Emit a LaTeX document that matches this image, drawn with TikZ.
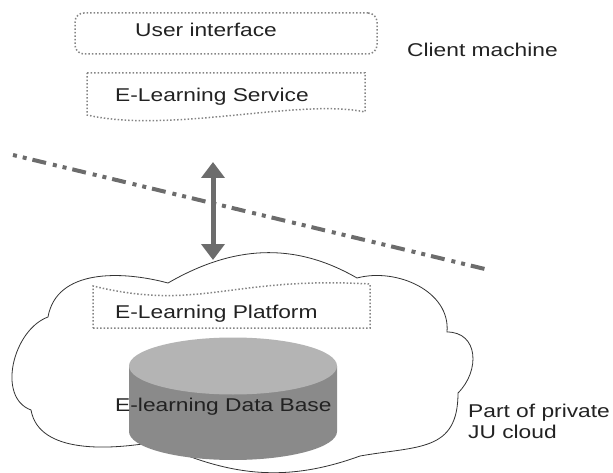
\documentclass[tikz,border=0pt]{standalone}
\usepackage{fontspec}
\newfontfamily\labelfont[FakeStretch=1.23]{Liberation Sans}
\usetikzlibrary{arrows.meta}

\definecolor{linegray}{HTML}{6C6C6C}
\definecolor{dotgray}{HTML}{858585}
\definecolor{dbtopgray}{HTML}{B4B4B4}
\definecolor{dbsidegray}{HTML}{8A8A8A}
\definecolor{inkgray}{HTML}{222222}

\begin{document}
\begin{tikzpicture}[x=1pt,y=1pt,
  lbl/.style={font=\labelfont\fontsize{18.5}{21}\selectfont, text=inkgray,
              inner sep=0pt, anchor=base west},
  dotbox/.style={draw=dotgray, line width=1.5pt, dash pattern=on 1.5pt off 2pt},
  sepline/.style={draw=linegray, line width=4pt,
                  dash pattern=on 4pt off 6pt on 4pt off 6pt on 14pt off 7pt},
  cloudline/.style={draw=black!80, line width=0.8pt, fill=white},
  biarrow/.style={draw=linegray, line width=5pt,
                  {Triangle[width=23pt,length=16pt]}-{Triangle[width=23pt,length=16pt]}}
]
\useasboundingbox (0,0) rectangle (613,472);

% client / cloud boundary
\coordinate (sepL) at (13,317);
\coordinate (sepR) at (489,202);
\draw[sepline] (sepL) -- (sepR);

% private cloud outline
\coordinate (c1) at (168,189);
\coordinate (c2) at (357,194);
\coordinate (c3) at (447,140);
\coordinate (c4) at (458,79);
\coordinate (c5) at (360,16);
\coordinate (c6) at (155,30);
\coordinate (c7) at (31,62);
\coordinate (c8) at (48,155);
\path[cloudline] (c1) to[out=30,in=150] (c2)
  to[out=15,in=85] (c3)
  to[out=0,in=45,looseness=1.3] (c4)
  to[out=-90,in=10,looseness=1.3] (c5)
  to[out=-160,in=-25] (c6)
  to[out=-170,in=-80,looseness=0.9] (c7)
  to[out=160,in=-160] (c8)
  to[out=80,in=165] (c1) -- cycle;

% client machine
\node[dotbox, rounded corners=9pt, minimum width=302pt, minimum height=41pt,
      inner sep=0pt] (uibox) at (226,438.5) {};
\node[lbl] (ui) at (135,435.3) {User interface};

\draw[dotbox] (87,399) -- (365,399) -- (365,360)
  .. controls (300,374) and (170,338) .. (87,357) -- cycle;
\node[lbl] (svc) at (115,370.3) {E-Learning Service};

\node[lbl] (client) at (407,415) {Client machine};

% platform inside the cloud
\draw[dotbox] (93,144) -- (370,144) -- (370,188)
  .. controls (230,196) and (200,160) .. (93,186) -- cycle;
\node[lbl] (plat) at (115,153.7) {E-Learning Platform};

% database cylinder
\fill[dbsidegray] (129,106) -- (129,40.5)
  arc[start angle=180, end angle=360, x radius=104, y radius=28.5]
  -- (337,106) -- cycle;
\fill[dbtopgray] (233,106) ellipse[x radius=104, y radius=28.5];
\node[lbl] (db) at (115,60.3) {E-learning Data Base};

\node[lbl] (priv) at (468,55) {Part of private};
\node[lbl] (ju) at (468,34) {JU cloud};

% access link between client and cloud
\coordinate (linkTop) at (213,310);
\coordinate (linkBot) at (213,212);
\draw[biarrow] (linkBot) -- (linkTop);
\end{tikzpicture}
\end{document}
